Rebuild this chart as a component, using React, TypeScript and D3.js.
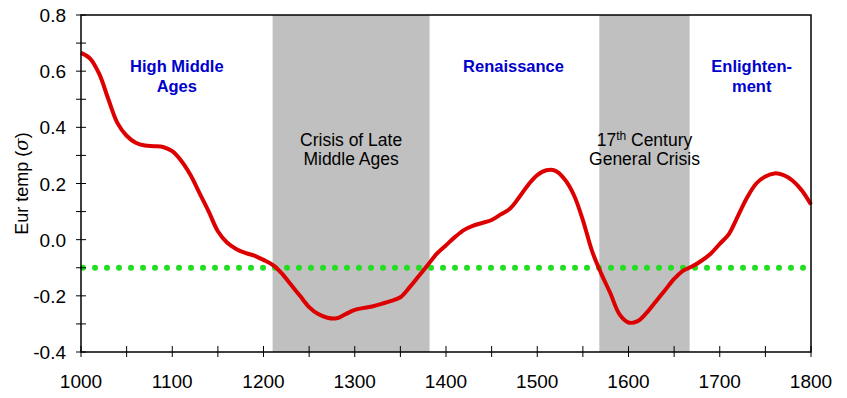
import React from 'react'
import * as d3 from 'd3'

// decades from 1000 to 1800
const years = d3.range(1000, 1801, 10)
const temps = [
  0.665, 0.645, 0.59, 0.5, 0.415, 0.37, 0.345, 0.335, 0.333, 0.33,
  0.315, 0.28, 0.23, 0.165, 0.1, 0.03, -0.01, -0.033, -0.047, -0.057,
  -0.072, -0.09, -0.12, -0.16, -0.2, -0.24, -0.265, -0.278, -0.28, -0.265,
  -0.25, -0.243, -0.237, -0.228, -0.218, -0.205, -0.17, -0.13, -0.09, -0.05,
  -0.02, 0.01, 0.035, 0.05, 0.06, 0.07, 0.09, 0.11, 0.15, 0.195,
  0.23, 0.247, 0.245, 0.215, 0.16, 0.07, -0.04, -0.12, -0.19, -0.265,
  -0.295, -0.29, -0.26, -0.22, -0.18, -0.14, -0.11, -0.095, -0.075, -0.05,
  -0.015, 0.02, 0.085, 0.15, 0.2, 0.225, 0.236, 0.23, 0.21, 0.175,
  0.125
]
const baseline = -0.1

const crises = [
  { from: 1210, to: 1382, lines: ['Crisis of Late', 'Middle Ages'] },
  { from: 1568, to: 1667, lines: ['17th Century', 'General Crisis'] },
]
const eras = [
  { year: 1105, lines: ['High Middle', 'Ages'] },
  { year: 1474, lines: ['Renaissance'] },
  { year: 1735, lines: ['Enlighten-', 'ment'] },
]

const yTickLabels = [0.8, 0.6, 0.4, 0.2, 0.0, -0.2, -0.4]
const xTickLabels = [1000, 1100, 1200, 1300, 1400, 1500, 1600, 1700, 1800]

const W = 847
const H = 398
const margin = { top: 15, right: 36, bottom: 46, left: 81 }
const font = 'Arial, "Liberation Sans", sans-serif'

export default function App() {
  const x = d3.scaleLinear().domain([1000, 1800]).range([margin.left, W - margin.right])
  const y = d3.scaleLinear().domain([-0.4, 0.8]).range([H - margin.bottom, margin.top])
  const line = d3.line<number>()
    .x((d, i) => x(years[i]))
    .y(d => y(d))
    .curve(d3.curveCatmullRom)

  const x0 = x(1000), x1 = x(1800), yTop = y(0.8), yBot = y(-0.4)

  return (
    <svg width={W} height={H} style={{ position: 'absolute', left: 0, top: 0, background: '#fff' }} fontFamily={font}>
      {crises.map((c, i) => (
        <g key={i}>
          <rect x={x(c.from)} y={yTop} width={x(c.to) - x(c.from)} height={yBot - yTop} fill="#c0c0c0" />
          <text x={(x(c.from) + x(c.to)) / 2} y={146} textAnchor="middle" fontSize={17.5} fill="#000">
            {i === 1
              ? <><tspan>17</tspan><tspan dy={-6} fontSize={12}>th</tspan><tspan dy={6}> Century</tspan></>
              : c.lines[0]}
          </text>
          <text x={(x(c.from) + x(c.to)) / 2} y={165} textAnchor="middle" fontSize={17.5} fill="#000">{c.lines[1]}</text>
        </g>
      ))}

      {eras.map((e, i) => (
        <text key={i} x={x(e.year)} y={72} textAnchor="middle" fontSize={16.5} fontWeight="bold" fill="#0000cc">
          {e.lines.map((l, j) => <tspan key={j} x={x(e.year)} dy={j === 0 ? 0 : 20}>{l}</tspan>)}
        </text>
      ))}

      <line x1={x0 + 2} x2={x1 - 4} y1={y(baseline)} y2={y(baseline)}
        stroke="#22dd22" strokeWidth={6} strokeLinecap="round" strokeDasharray="0 12" />

      <path d={line(temps) || ''} fill="none" stroke="#dd0000" strokeWidth={4} strokeLinejoin="round" />

      <rect x={x0} y={yTop} width={x1 - x0} height={yBot - yTop} fill="none" stroke="#000" strokeWidth={1.5} />

      {d3.range(-0.4, 0.81, 0.1).map((v, i) => (
        <line key={i} x1={x0 - 5} x2={x0 + 5} y1={y(v)} y2={y(v)} stroke="#000" strokeWidth={1} />
      ))}
      {d3.range(1000, 1801, 50).map(v => (
        <line key={v} x1={x(v)} x2={x(v)} y1={yBot - 6} y2={yBot + 5} stroke="#000" strokeWidth={1} />
      ))}

      {yTickLabels.map(v => (
        <text key={v} x={x0 - 15} y={y(v) + 7} textAnchor="end" fontSize={19} fill="#000">{v.toFixed(1)}</text>
      ))}
      {xTickLabels.map(v => (
        <text key={v} x={x(v)} y={388} textAnchor="middle" fontSize={19} fill="#000">{v}</text>
      ))}

      <text transform={`translate(28, ${(yTop + yBot) / 2}) rotate(-90)`} textAnchor="middle" fontSize={18} fill="#000">
        Eur temp (<tspan fontStyle="italic" fontFamily="'DejaVu Serif', serif">σ</tspan>)
      </text>
    </svg>
  )
}
